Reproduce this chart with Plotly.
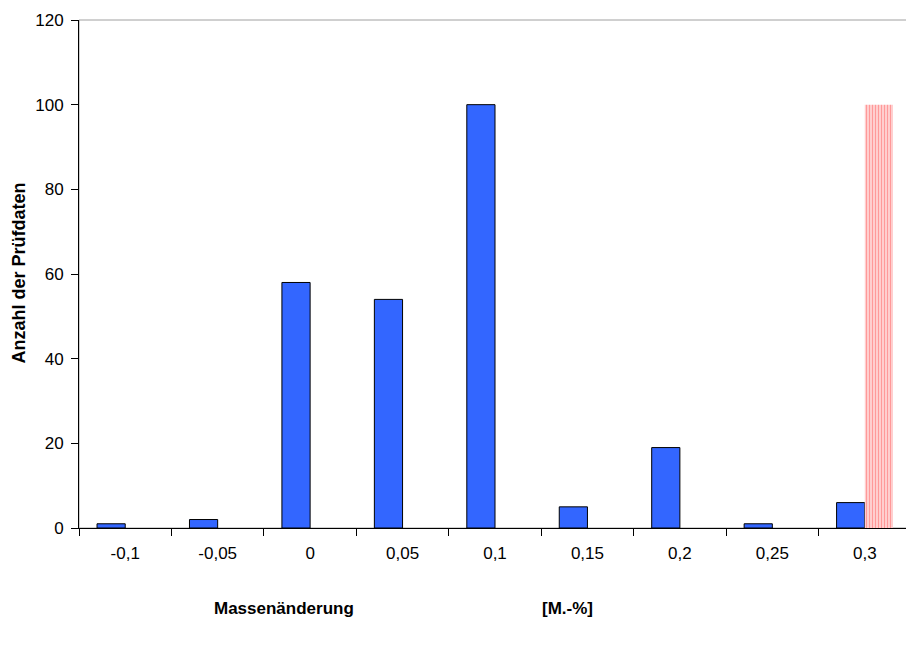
import plotly.graph_objects as go

categories = ["-0,1", "-0,05", "0", "0,05", "0,1", "0,15", "0,2", "0,25", "0,3"]
counts = [1, 2, 58, 54, 100, 5, 19, 1, 6]
marker_series = [0, 0, 0, 0, 0, 0, 0, 0, 100]
y_ticks = [0, 20, 40, 60, 80, 100, 120]

W, H = 914, 653
L, R, T, B = 71, 11, 12, 133
# effective plot area as photographed (page body offset 8px)
PX0, PX1, PY0, PY1 = 79, 904, 20, 528

def px_to_paper_x(px):
    return (px - PX0) / (PX1 - PX0)

def px_to_paper_y(py):
    return (PY1 - py) / (PY1 - PY0)

fig = go.Figure()
fig.add_trace(go.Bar(
    x=categories, y=counts, name="Anzahl",
    marker=dict(color="#3366FF", line=dict(color="#000000", width=1)),
))
fig.add_trace(go.Bar(
    x=categories, y=marker_series, name="Marker",
    marker=dict(color="#FFFFFF", line=dict(width=0),
                pattern=dict(shape="|", fgcolor="#FF9999", bgcolor="#FFFFFF",
                             size=3, solidity=0.65, fillmode="replace")),
))

font = "Liberation Sans, Arial, sans-serif"
fig.update_layout(
    width=W, height=H,
    margin=dict(l=L, r=R, t=T, b=B, autoexpand=False),
    paper_bgcolor="white", plot_bgcolor="white",
    barmode="group", bargap=0.39, bargroupgap=0,
    showlegend=False,
    font=dict(family=font, size=17, color="#000000"),
    xaxis=dict(type="category", tickson="boundaries", ticks="outside", ticklen=7,
               tickcolor="#000000", showline=True, linecolor="#000000", linewidth=1,
               showgrid=False, zeroline=False, tickfont=dict(size=17), automargin=False,
               ticklabelstandoff=10),
    yaxis=dict(range=[0, 120], tickvals=y_ticks, ticks="outside", ticklen=7,
               tickcolor="#000000", showline=True, linecolor="#000000", linewidth=1,
               showgrid=False, zeroline=False, tickfont=dict(size=17), automargin=False,
               ticklabelstandoff=4),
    shapes=[dict(type="rect", xref="paper", yref="paper", x0=0, x1=1, y0=0, y1=1,
                 line=dict(color="#A0A0A0", width=1), layer="below")],
    annotations=[
        dict(text="<b>Massenänderung</b>", xref="paper", yref="paper",
             x=px_to_paper_x(282), y=px_to_paper_y(608), xanchor="center", yanchor="middle",
             showarrow=False, font=dict(size=17)),
        dict(text="<b>[M.-%]</b>", xref="paper", yref="paper",
             x=px_to_paper_x(563), y=px_to_paper_y(608), xanchor="center", yanchor="middle",
             showarrow=False, font=dict(size=17)),
        dict(text="<b>Anzahl der Prüfdaten</b>", xref="paper", yref="paper",
             x=px_to_paper_x(20), y=px_to_paper_y(273), xanchor="center", yanchor="middle",
             textangle=-90, showarrow=False, font=dict(size=18)),
    ],
)

fig.write_html("out.html")
